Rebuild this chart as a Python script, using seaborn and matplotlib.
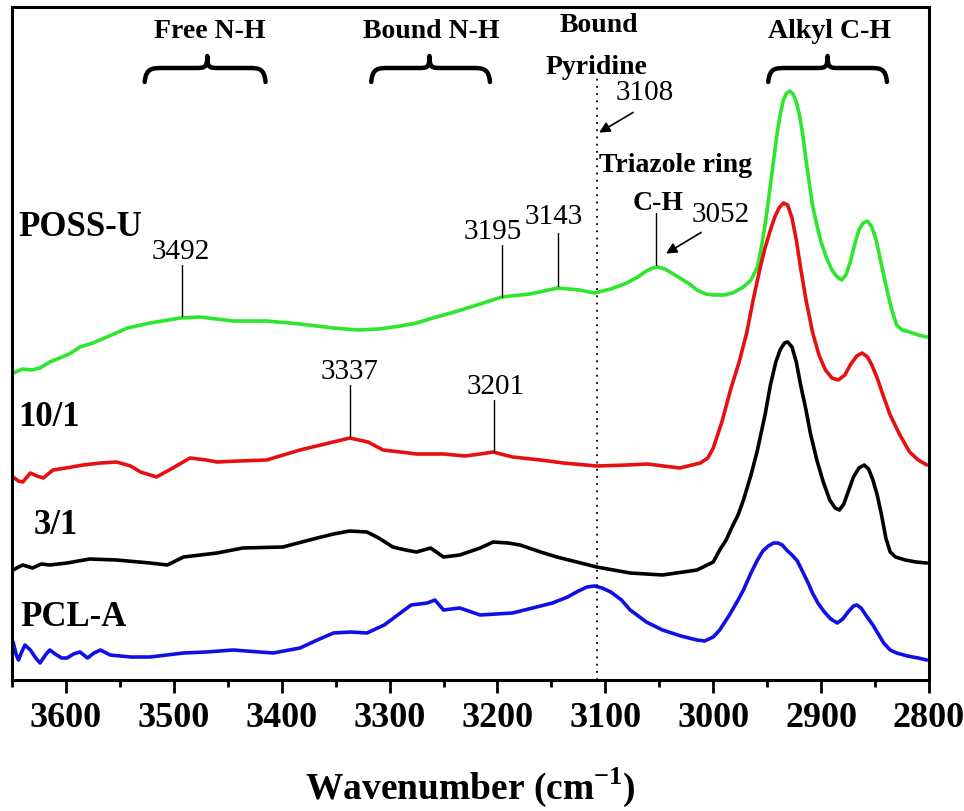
import numpy as np
import pandas as pd
import matplotlib
matplotlib.use("Agg")
import matplotlib.pyplot as plt
from matplotlib.path import Path
from matplotlib.patches import PathPatch
import seaborn as sns

# FTIR spectra, stacked with offsets (wavenumber in cm-1, intensity in arbitrary units)
poss_u_wn = [3649, 3640, 3632, 3624, 3615, 3606, 3597, 3587, 3575, 3562, 3543, 3522, 3494, 3476,
             3445, 3414, 3383, 3352, 3330, 3310, 3290, 3275, 3260, 3240, 3216, 3196, 3170, 3144,
             3124, 3110, 3095, 3080, 3070, 3062, 3056, 3051, 3045, 3040, 3031, 3022, 3015, 3007,
             3000, 2990, 2982, 2972, 2965, 2959, 2955, 2952, 2950, 2947, 2944, 2941, 2938, 2935,
             2932, 2929, 2926, 2923, 2920, 2917, 2914, 2911, 2908, 2904, 2900, 2895, 2890, 2885,
             2881, 2877, 2873, 2869, 2865, 2861, 2857, 2853, 2849, 2845, 2840, 2835, 2830, 2825,
             2818, 2810, 2802]
poss_u_y = [307, 311, 310, 312, 318, 322, 326, 333, 337, 343, 352, 357, 362, 363,
            359, 359, 356, 352, 350, 351, 354, 357, 362, 368, 376, 383, 386, 392,
            390, 387, 391, 397, 403, 409, 412, 413, 411, 408, 402, 396, 390, 386,
            385, 385, 387, 393, 400, 413, 435, 455, 470, 495, 520, 545, 565, 580,
            587, 589, 586, 578, 565, 545, 520, 497, 475, 455, 438, 422, 410, 403,
            400, 405, 418, 435, 450, 457, 459, 453, 440, 420, 395, 372, 355, 350,
            348, 345, 343]

r10_wn = [3649, 3644, 3640, 3633, 3627, 3621, 3612, 3600, 3584, 3568, 3553, 3540, 3531, 3516,
          3501, 3485, 3470, 3460, 3440, 3414, 3383, 3360, 3337, 3320, 3306, 3290, 3275, 3250,
          3230, 3216, 3204, 3186, 3160, 3139, 3108, 3080, 3061, 3031, 3012, 3005, 3000, 2992,
          2984, 2976, 2969, 2963, 2957, 2952, 2947, 2943, 2939, 2935, 2931, 2927, 2923, 2919,
          2914, 2908, 2902, 2896, 2890, 2884, 2878, 2873, 2867, 2862, 2857, 2853, 2848, 2843,
          2836, 2827, 2818, 2810, 2802]
r10_y = [203, 199, 198, 207, 204, 202, 210, 212, 215, 217, 218, 214, 208, 203,
         212, 222, 220, 218, 219, 220, 230, 236, 242, 238, 230, 228, 226, 226,
         224, 226, 228, 223, 220, 217, 214, 215, 216, 212, 217, 222, 232, 258,
         290, 318, 347, 380, 410, 432, 450, 463, 472, 477, 475, 462, 440, 412,
         380, 348, 325, 310, 302, 300, 305, 315, 324, 327, 323, 315, 302, 286,
         265, 245, 228, 220, 215]

r3_wn = [3649, 3644, 3640, 3631, 3623, 3615, 3599, 3578, 3553, 3522, 3506, 3491, 3460, 3436,
         3399, 3367, 3352, 3337, 3321, 3310, 3297, 3285, 3275, 3262, 3250, 3235, 3216, 3204,
         3190, 3179, 3160, 3145, 3108, 3077, 3047, 3015, 3000, 2994, 2988, 2983, 2977, 2972,
         2965, 2959, 2952, 2947, 2942, 2938, 2934, 2931, 2927, 2923, 2919, 2914, 2910, 2904,
         2898, 2892, 2887, 2883, 2879, 2875, 2870, 2865, 2860, 2856, 2852, 2848, 2844, 2840,
         2836, 2831, 2822, 2812, 2802]
r3_y = [110, 113, 115, 112, 116, 115, 117, 121, 120, 117, 115, 123, 127, 132,
        133, 142, 146, 149, 148, 142, 133, 130, 128, 132, 123, 125, 132, 138,
        137, 135, 128, 123, 113, 107, 105, 110, 118, 130, 140, 152, 165, 180,
        205, 230, 265, 295, 318, 330, 337, 338, 333, 318, 295, 270, 247, 220,
        198, 180, 172, 170, 176, 188, 203, 212, 215, 211, 200, 185, 165, 142,
        128, 123, 120, 118, 117]

pcl_wn = [3649, 3646, 3644, 3641, 3638, 3633, 3628, 3624, 3619, 3615, 3610, 3604, 3599, 3593,
          3587, 3580, 3574, 3568, 3559, 3540, 3522, 3491, 3470, 3445, 3408, 3383, 3367, 3352,
          3336, 3321, 3305, 3290, 3280, 3265, 3258, 3250, 3235, 3216, 3186, 3149, 3135, 3125,
          3117, 3110, 3103, 3095, 3085, 3077, 3062, 3047, 3030, 3015, 3008, 3000, 2994, 2985,
          2978, 2972, 2965, 2959, 2954, 2949, 2944, 2940, 2936, 2932, 2927, 2922, 2917, 2912,
          2908, 2903, 2897, 2891, 2885, 2880, 2875, 2870, 2867, 2863, 2858, 2852, 2847, 2842,
          2836, 2830, 2820, 2810, 2802]
pcl_y = [38, 25, 20, 28, 35, 30, 22, 17, 25, 30, 26, 22, 22, 26,
         28, 22, 27, 30, 25, 23, 23, 27, 28, 30, 27, 32, 40, 47,
         48, 47, 55, 67, 75, 77, 80, 70, 72, 65, 67, 77, 83, 89,
         93, 94, 92, 88, 80, 70, 58, 50, 44, 40, 39, 43, 50, 65,
         78, 90, 107, 120, 129, 134, 137, 137, 135, 130, 125, 119, 108, 97,
         87, 77, 68, 61, 57, 61, 68, 74, 75, 72, 64, 55, 46, 37,
         30, 27, 24, 22, 20]

samples = ["POSS-U", "10/1", "3/1", "PCL-A"]
colors = {"POSS-U": "#2ee62e", "10/1": "#e61010", "3/1": "#000000", "PCL-A": "#1010e6"}

frames = []
for name, wn, yy in zip(samples, [poss_u_wn, r10_wn, r3_wn, pcl_wn], [poss_u_y, r10_y, r3_y, pcl_y]):
    frames.append(pd.DataFrame({"wn": wn, "y": yy, "sample": name}))
df = pd.concat(frames, ignore_index=True)

# sample labels (wavenumber, y)
sample_pos = {"POSS-U": (3644, 453), "10/1": (3644, 262), "3/1": (3630, 155), "PCL-A": (3642, 63)}

# peak annotations: label, line x, line y0, line y1, text x, text y
peak_marks = [("3492", 3492, 364, 415, 3494, 428),
              ("3337", 3337, 243, 295, 3337, 308),
              ("3201", 3203, 228, 280, 3202, 293),
              ("3195", 3196, 383, 435, 3204, 448),
              ("3143", 3144, 394, 447, 3148, 463),
              ("", 3053, 415, 467, 0, 0)]

# band regions (left, right, tip) for braces
bands = [("Free N-H", 3527, 3415, 3469),
         ("Bound N-H", 3317, 3207, 3263),
         ("Alkyl C-H", 2949, 2839, 2894)]

sns.set_style("ticks")
plt.rcParams["font.family"] = ["Liberation Serif", "DejaVu Serif"]
plt.rcParams["text.color"] = "black"
plt.rcParams["xtick.color"] = "black"
plt.rcParams["mathtext.fontset"] = "custom"
plt.rcParams["mathtext.rm"] = "Liberation Serif"
plt.rcParams["mathtext.bf"] = "Liberation Serif:bold"

fig = plt.figure(figsize=(9.64, 8.11), dpi=100)
ax = fig.add_axes([12 / 964, 131 / 811, 917 / 964, 673 / 811])

sns.lineplot(data=df, x="wn", y="y", hue="sample", palette=colors, estimator=None,
             sort=False, linewidth=2.6, legend=False, ax=ax,
             solid_joinstyle="round", solid_capstyle="round")

ax.set_xlim(3650, 2800)
ax.set_ylim(0, 673)
ax.set_xticks(np.arange(3600, 2799, -100))
ax.set_xticks(np.arange(3650, 2799, -50), minor=True)
ax.set_yticks([])
ax.tick_params(axis="x", which="major", direction="out", length=9.5, width=2, labelsize=26,
               pad=6, colors="black")
ax.tick_params(axis="x", which="minor", direction="out", length=5, width=2, colors="black")
for lbl in ax.get_xticklabels():
    lbl.set_fontweight("bold")
for s in ax.spines.values():
    s.set_linewidth(2.2)
    s.set_color("black")
ax.set_ylabel("")
ax.set_xlabel(r"Wavenumber (cm$^{\mathbf{-1}}$)", fontsize=27, fontweight="bold", labelpad=22,
              color="black")

for name in samples:
    x, y = sample_pos[name]
    ax.text(x, y, name, fontsize=25, fontweight="bold", ha="left", va="center")

for lab, lx, y0, y1, tx, ty in peak_marks:
    ax.plot([lx, lx], [y0, y1], color="black", lw=1.0)
    if lab:
        ax.text(tx, ty, lab, fontsize=21, ha="center", va="center")

# bound pyridine reference line
ax.plot([3108, 3108], [0, 602], color="black", lw=1.3, linestyle=(0, (1, 3)))
ax.text(3064, 587, "3108", fontsize=21, ha="center", va="center")
ax.annotate("", xy=(3108, 546), xytext=(3072, 569),
            arrowprops=dict(arrowstyle="-|>", color="black", lw=1.2, mutation_scale=16))
ax.text(2993, 465, "3052", fontsize=21, ha="center", va="center")
ax.annotate("", xy=(3046, 425), xytext=(3009, 449),
            arrowprops=dict(arrowstyle="-|>", color="black", lw=1.2, mutation_scale=16))

ax.text(3106, 654, "Bound", fontsize=20, fontweight="bold", ha="center", va="center")
ax.text(3108, 613, "Pyridine", fontsize=20, fontweight="bold", ha="center", va="center")
ax.text(3035, 514, "Triazole ring", fontsize=20, fontweight="bold", ha="center", va="center")
ax.text(3051, 477, "C-H", fontsize=20, fontweight="bold", ha="center", va="center")


def brace(ax, xl, xr, xt, y_end=598, y_flat=612, y_tip=624):
    dl = xt - xl
    dr = xr - xt
    verts = [(xl, y_end),
             (xl + 0.02 * dl, y_flat), (xl + 0.12 * dl, y_flat), (xl + 0.3 * dl, y_flat),
             (xt - 0.2 * dl, y_flat),
             (xt - 0.04 * dl, y_flat), (xt, y_flat), (xt, y_tip),
             (xt, y_flat), (xt + 0.04 * dr, y_flat), (xt + 0.2 * dr, y_flat),
             (xr - 0.3 * dr, y_flat),
             (xr - 0.12 * dr, y_flat), (xr - 0.02 * dr, y_flat), (xr, y_end)]
    codes = [Path.MOVETO, Path.CURVE4, Path.CURVE4, Path.CURVE4, Path.LINETO,
             Path.CURVE4, Path.CURVE4, Path.CURVE4, Path.CURVE4, Path.CURVE4, Path.CURVE4,
             Path.LINETO, Path.CURVE4, Path.CURVE4, Path.CURVE4]
    ax.add_patch(PathPatch(Path(verts, codes), fill=False, lw=3.2, color="black",
                           capstyle="round", joinstyle="round"))


for lab, xl, xr, xt in bands:
    brace(ax, xl, xr, xt)
    ax.text(xt - 2, 649, lab, fontsize=20, fontweight="bold", ha="center", va="center")

fig.savefig("out.png", dpi=100)
